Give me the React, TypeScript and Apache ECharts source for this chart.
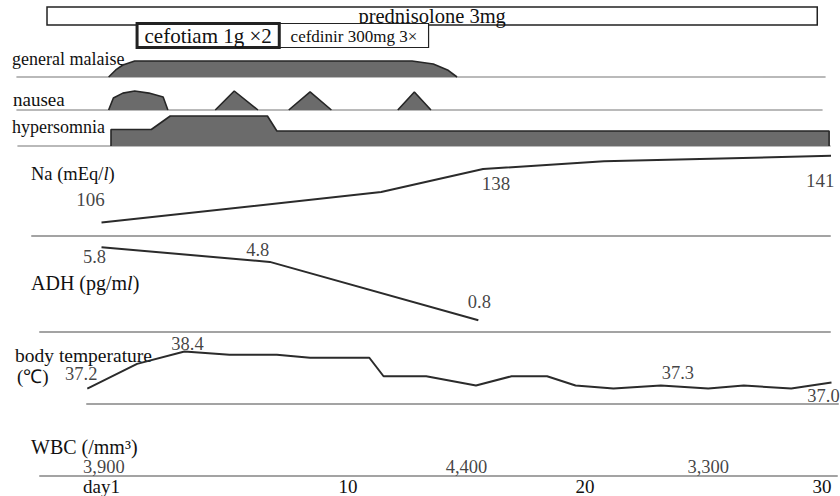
import { useEffect, useRef } from "react";
import * as echarts from "echarts";

const FONT = "Liberation Serif";

// ---- data ----
const drugNames = ["prednisolone 3mg", "cefdinir 300mg 3×", "cefotiam 1g ×2"];
const drugStart = [-2.7, 7.1, 1.1];
const drugEnd = [29.8, 13.4, 7.1];
const drugRow = [0, 1, 1];

const malaiseDays = [-0.1, 0.2, 0.5, 1.0, 12.7, 13.6, 14.2, 14.6];
const malaiseLevel = [0, 0.44, 0.75, 1, 1, 0.81, 0.44, 0];

const nauseaDays = [
  [-0.1, 0.1, 0.5, 1.0, 1.6, 2.2, 2.4],
  [4.4, 5.2, 6.2],
  [7.5, 8.4, 9.3],
  [12.1, 12.8, 13.5],
];
const nauseaLevel = [
  [0, 0.63, 0.89, 1, 0.89, 0.68, 0],
  [0, 1, 0],
  [0, 0.95, 0],
  [0, 0.95, 0],
];

const hypersomniaDays = [0, 0, 1.7, 2.5, 6.6, 7.0, 30.3, 30.3];
const hypersomniaLevel = [0, 1.1, 1.1, 2, 2, 1, 1, 0];

const naDays = [-0.4, 11.4, 15.7, 20.8, 30.6];
const naValues = [106, 122, 134, 138, 141];
const naLabels = ["106", "", "138", "", "141"];

const adhDays = [-0.4, 6.7, 15.5];
const adhValues = [5.8, 4.8, 0.8];

const tempDays = [-1.0, 1.1, 3.1, 5.0, 7.0, 8.4, 10.9, 11.5, 13.3, 15.4, 16.9, 18.4, 19.6, 21.2, 23.2, 25.2, 26.7, 28.7, 30.4];
const tempValues = [37.2, 38.0, 38.4, 38.3, 38.3, 38.2, 38.2, 37.6, 37.6, 37.3, 37.6, 37.6, 37.3, 37.2, 37.3, 37.2, 37.3, 37.2, 37.4];
const tempLabels = ["37.2", "", "38.4", "", "", "", "", "", "", "", "", "", "", "", "37.3", "", "", "", "37.0"];

const wbcDays = [-0.3, 15.0, 25.2];
const wbcValues = [3900, 4400, 3300];

const tickDays = [-0.4, 10, 20, 30];
const tickLabels = ["day1", "10", "20", "30"];

// ---- layout (pixels) ----
const X0 = 111; // pixel of day 0
const PXD = 23.7; // pixels per day
const W = 840;
const LAYOUT = [
  { left: 0, right: 0, top: 0, height: 50 }, // drugs
  { left: 17, right: 15, top: 61, height: 16 }, // malaise
  { left: 17, right: 18, top: 91, height: 19 }, // nausea
  { left: 18, right: 10, top: 116, height: 30 }, // hypersomnia
  { left: 32, right: 10, top: 138.4, height: 97.6 }, // Na
  { left: 40, right: 10, top: 235.6, height: 96.4 }, // ADH
  { left: 87, right: 2, top: 345.4, height: 58.6 }, // temperature
  { left: 40, right: 3, top: 446, height: 30 }, // WBC + day axis
];
const Y_RANGES = [[0, 1], [0, 1], [0, 1], [0, 2], [99, 150], [0, 6.6], [36.7, 38.6], [0, 1]];

const ROW_BOX = [[7, 25], [23.5, 47.5]];
const ROW_TEXT_Y = [15.5, 36];
const DRUG_STYLE: Record<string, { lw: number; fs: number; z: number }> = {
  "prednisolone 3mg": { lw: 1.5, fs: 20.5, z: 1 },
  "cefotiam 1g ×2": { lw: 3, fs: 21, z: 3 },
  "cefdinir 300mg 3×": { lw: 1.2, fs: 17, z: 2 },
};

const NA_OFF: Record<number, number[]> = { 0: [-11, -23], 2: [13, 14], 4: [-16, 25] };
const ADH_OFF: Record<number, number[]> = { 0: [-7, 10], 1: [-12, -12], 2: [1, -18] };
const TEMP_OFF: Record<number, number[]> = { 0: [-6, -15], 2: [3, -8], 14: [17, -12], 18: [-8, 14] };

const INK = "#111111";
const LINE = "#2b2b2b";
const FILL = "#6b6b6b";
const AXIS = "#a3a3a3";

function xRange(left: number, right: number) {
  return { min: (left - X0) / PXD, max: (W - right - X0) / PXD };
}

function buildOption(): any {
  const grid = LAYOUT.map((g) => ({ ...g, containLabel: false, outerBoundsMode: "none" }));
  const xAxis = LAYOUT.map((g, i) => {
    const r = xRange(g.left, g.right);
    return {
      type: "value",
      gridIndex: i,
      min: r.min,
      max: r.max,
      show: i > 0,
      axisLine: { show: true, onZero: false, lineStyle: { color: AXIS, width: i < 4 ? 1.6 : 2 } },
      axisTick: { show: false },
      splitLine: { show: false },
      axisLabel:
        i === 7
          ? {
              show: true,
              customValues: tickDays,
              formatter: (v: number) => {
                const idx = tickDays.findIndex((t) => Math.abs(t - v) < 1e-6);
                return idx >= 0 ? tickLabels[idx] : "";
              },
              fontSize: 19,
              fontFamily: FONT,
              color: INK,
              margin: 1,
            }
          : { show: false },
    };
  });
  const yAxis = Y_RANGES.map((r, i) => ({ type: "value", gridIndex: i, min: r[0], max: r[1], show: false }));

  const shape = (gi: number, days: number[], lv: number[]) => ({
    type: "line",
    xAxisIndex: gi,
    yAxisIndex: gi,
    data: days.map((d, i) => [d, lv[i]]),
    symbol: "none",
    clip: false,
    silent: true,
    lineStyle: { color: "#262626", width: 1.6 },
    areaStyle: { color: FILL, opacity: 1 },
  });
  const line = (gi: number, days: number[], vals: number[]) => ({
    type: "line",
    xAxisIndex: gi,
    yAxisIndex: gi,
    data: days.map((d, i) => [d, vals[i]]),
    symbol: "none",
    clip: false,
    silent: true,
    lineStyle: { color: LINE, width: 2 },
  });
  const notes = (gi: number, days: number[], vals: number[], texts: string[], offs: Record<number, number[]>, fs: number) => ({
    type: "scatter",
    xAxisIndex: gi,
    yAxisIndex: gi,
    symbolSize: 1,
    clip: false,
    silent: true,
    itemStyle: { color: "rgba(0,0,0,0)" },
    label: { show: true, position: "inside", fontSize: fs, fontFamily: FONT, color: INK, textBorderWidth: 0 },
    data: texts
      .map((t, i) =>
        t ? { value: [days[i], vals[i]], label: { show: true, position: "inside", formatter: t, offset: offs[i] || [0, 0] } } : null
      )
      .filter(Boolean),
  });

  const drugSeries = {
    type: "custom",
    xAxisIndex: 0,
    yAxisIndex: 0,
    clip: false,
    silent: true,
    data: drugNames.map((n, i) => [drugStart[i], drugEnd[i], drugRow[i]]),
    encode: { x: [0, 1] },
    renderItem: (params: any, api: any) => {
      const i = params.dataIndex;
      const name = drugNames[i];
      const st = DRUG_STYLE[name];
      const s = api.coord([api.value(0), 0]);
      const e = api.coord([api.value(1), 0]);
      const row = api.value(2);
      const [y0, y1] = ROW_BOX[row];
      return {
        type: "group",
        children: [
          {
            type: "rect",
            z2: st.z,
            shape: { x: s[0], y: y0, width: e[0] - s[0], height: y1 - y0 },
            style: { fill: "#fff", stroke: "#222", lineWidth: st.lw },
          },
          {
            type: "text",
            z2: st.z + 1,
            x: (s[0] + e[0]) / 2,
            y: ROW_TEXT_Y[row],
            style: {
              text: name,
              fill: INK,
              fontSize: st.fs,
              fontFamily: FONT,
              align: "center",
              verticalAlign: "middle",
              textAlign: "center",
              textVerticalAlign: "middle",
            },
          },
        ],
      };
    },
  };

  const series: any[] = [drugSeries];
  series.push(shape(1, malaiseDays, malaiseLevel));
  nauseaDays.forEach((d, k) => series.push(shape(2, d, nauseaLevel[k])));
  series.push(shape(3, hypersomniaDays, hypersomniaLevel));
  series.push(line(4, naDays, naValues));
  series.push(notes(4, naDays, naValues, naLabels, NA_OFF, 19));
  series.push(line(5, adhDays, adhValues));
  series.push(notes(5, adhDays, adhValues, adhValues.map((v) => v.toFixed(1)), ADH_OFF, 18.5));
  series.push(line(6, tempDays, tempValues));
  series.push(notes(6, tempDays, tempValues, tempLabels, TEMP_OFF, 18.5));
  series.push(
    notes(
      7,
      wbcDays,
      wbcDays.map(() => 0),
      wbcValues.map((v) => v.toLocaleString("en-US")),
      { 0: [0, -9], 1: [0, -9], 2: [0, -9] },
      18.5
    )
  );

  const txt = (text: string, x: number, y: number, fs: number) => ({
    type: "text",
    x,
    y,
    silent: true,
    style: {
      text,
      fill: INK,
      fontSize: fs,
      fontFamily: FONT,
      verticalAlign: "middle",
      textVerticalAlign: "middle",
      rich: {
        i: { fontStyle: "italic", fontSize: fs, fontFamily: FONT, fill: INK },
      },
    },
  });

  const graphic = [
    txt("general malaise", 12, 59, 18),
    txt("nausea", 13, 99, 19),
    txt("hypersomnia", 12, 127, 18),
    txt("Na (mEq/{i|l})", 31, 174, 18.5),
    txt("ADH (pg/m{i|l})", 31, 283, 20),
    txt("body temperature", 15, 355, 19.5),
    txt("(℃)", 17, 376, 19),
    txt("WBC (/mm³)", 31, 447, 20),
  ];

  return {
    animation: false,
    backgroundColor: "#ffffff",
    textStyle: { fontFamily: FONT },
    grid,
    xAxis,
    yAxis,
    series,
    graphic,
  };
}

export default function App() {
  const ref = useRef<HTMLDivElement>(null);
  useEffect(() => {
    const chart = echarts.init(ref.current!, null, { renderer: "svg" });
    chart.setOption(buildOption());
    return () => chart.dispose();
  }, []);
  return <div ref={ref} style={{ position: "absolute", left: 0, top: 0, width: 840, height: 496 }} />;
}
